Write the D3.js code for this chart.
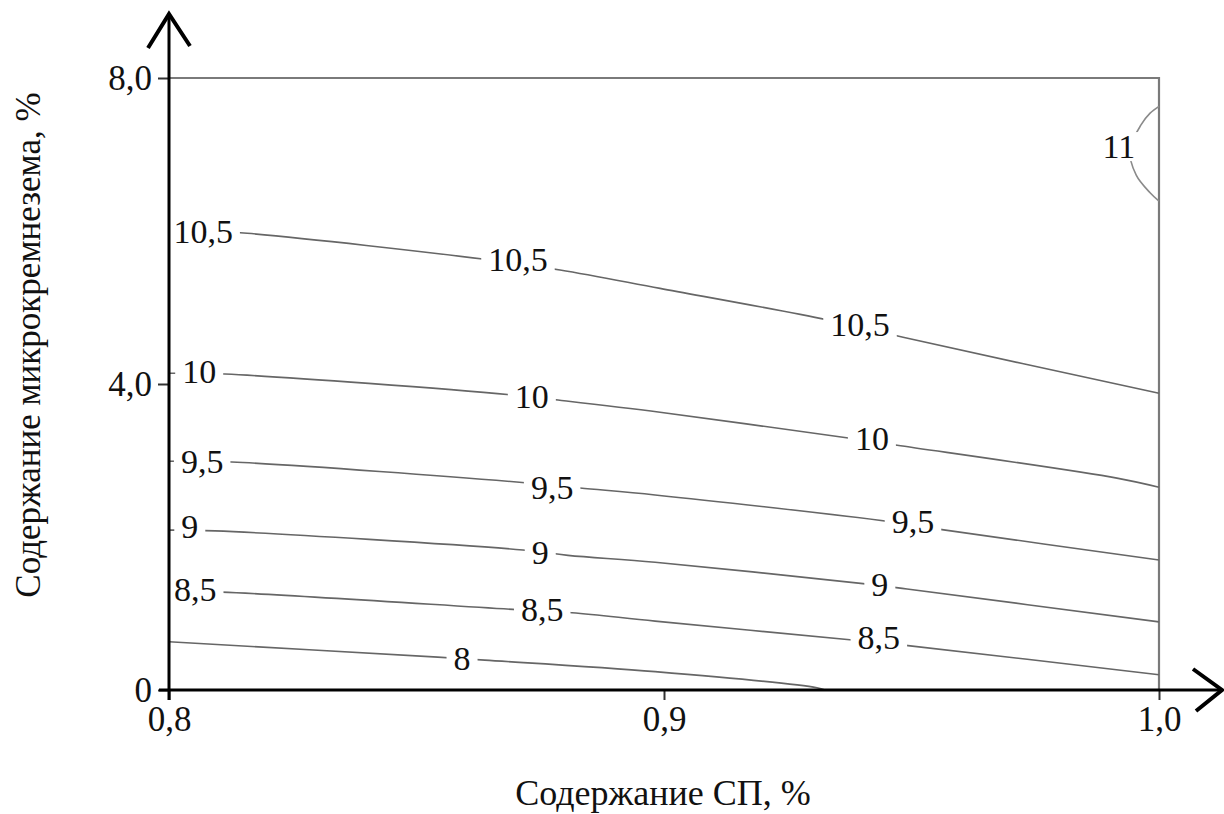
<!DOCTYPE html>
<html>
<head>
<meta charset="utf-8">
<script src="https://cdn.jsdelivr.net/npm/d3@7"></script>
</head>
<body style="margin:0;background:#fff">
<svg id="plot" width="1224" height="814" style="display:block"></svg>
<script>
// Isolines of the response surface: [СП %, микрокремнезем %]
const contour8   = [[0.8, 0.63], [0.8543, 0.43], [0.8638, 0.39], [0.8982, 0.24], [0.9309, 0.03], [0.9325, 0.0]];
const contour8_5 = [[0.8, 1.29], [0.8107, 1.28], [0.8703, 1.05], [0.8814, 1.01], [0.8982, 0.90], [0.9386, 0.65], [0.9493, 0.58], [1.0, 0.20]];
const contour9   = [[0.8, 2.09], [0.8093, 2.08], [0.8715, 1.83], [0.8806, 1.76], [0.8982, 1.67], [0.9402, 1.39], [0.9491, 1.32], [1.0, 0.89]];
const contour9_5 = [[0.8, 2.99], [0.8127, 2.98], [0.8719, 2.71], [0.883, 2.64], [0.8982, 2.55], [0.9457, 2.20], [0.9558, 2.10], [1.0, 1.70]];
const contour10  = [[0.8, 4.14], [0.8113, 4.13], [0.8689, 3.86], [0.8786, 3.79], [0.8992, 3.63], [0.9376, 3.29], [0.9471, 3.20], [0.9915, 2.77], [1.0, 2.65]];
const contour10_5 = [[0.8, 6.03], [0.8158, 5.97], [0.8638, 5.63], [0.879, 5.49], [0.8992, 5.25], [0.9329, 4.84], [0.9483, 4.61], [1.0, 3.88]];
const contour11  = [[1.0, 7.63], [0.9982, 7.54], [0.9964, 7.39], [0.9941, 7.06], [0.9954, 6.73], [0.9982, 6.50], [1.0, 6.39]];

const levels = [8, 8.5, 9, 9.5, 10, 10.5, 11];
const contours = [contour8, contour8_5, contour9, contour9_5, contour10, contour10_5, contour11];

// Inline labels: [level, x, y]
const contourLabels = [
  [10.5, 0.8069, 5.99], [10.5, 0.8705, 5.62], [10.5, 0.9396, 4.77],
  [10, 0.8061, 4.16], [10, 0.8733, 3.83], [10, 0.9420, 3.29],
  [9.5, 0.8067, 2.98], [9.5, 0.8774, 2.64], [9.5, 0.9503, 2.20],
  [9, 0.8042, 2.14], [9, 0.8750, 1.80], [9, 0.9436, 1.37],
  [8.5, 0.8053, 1.31], [8.5, 0.8754, 1.05], [8.5, 0.9434, 0.68],
  [8, 0.8592, 0.41],
  [11, 0.9919, 7.10]
];

const xTicks = [0.8, 0.9, 1.0];
const xTickLabels = ["0,8", "0,9", "1,0"];
const yTicks = [0, 4, 8];
const yTickLabels = ["0", "4,0", "8,0"];

const xTitle = "Содержание СП, %";
const yTitle = "Содержание микрокремнезема, %";

const svg = d3.select("#plot");
const x = d3.scaleLinear().domain([0.8, 1.0]).range([169, 1159]);
const y = d3.scaleLinear().domain([0, 8]).range([690, 78]);

const fmt = v => String(v).replace(".", ",");

// Apply the serif face both as attribute and inline style
function serif(sel, size) {
  return sel.attr("font-family", "Liberation Serif")
    .style("font-family", '"Liberation Serif"')
    .style("font-size", size + "px")
    .attr("fill", "#111");
}

// Frame (top and right)
svg.append("path")
  .attr("d", `M${x(0.8)},${y(8)}H${x(1.0)}V${y(0)}`)
  .attr("fill", "none")
  .attr("stroke", "#7a7a7a")
  .attr("stroke-width", 2.2);

// Isolines
const line = d3.line().x(d => x(d[0])).y(d => y(d[1])).curve(d3.curveCatmullRom.alpha(0.5));
svg.append("g")
  .selectAll("path")
  .data(contours)
  .join("path")
  .attr("d", line)
  .attr("fill", "none")
  .attr("stroke", (d, i) => levels[i] === 11 ? "#8a8a8a" : "#666")
  .attr("stroke-width", 1.6);

// Labels with a white knockout behind them
const lab = svg.append("g");
contourLabels.forEach(([lv, lx, ly]) => {
  const g = lab.append("g").attr("transform", `translate(${x(lx)},${y(ly)})`);
  const rect = g.append("rect").attr("fill", "#fff");
  const t = serif(g.append("text"), 34)
    .attr("text-anchor", "middle")
    .attr("dy", "0.33em")
    .text(fmt(lv));
  const bb = t.node().getBBox();
  const padX = lv === 11 ? 5 : 7;
  rect.attr("x", bb.x - padX).attr("y", bb.y + 4)
      .attr("width", bb.width + 2 * padX).attr("height", bb.height - 8);
});

// Y axis
const yAxis = d3.axisLeft(y).tickValues(yTicks).tickSize(11).tickPadding(6)
  .tickFormat(d => yTickLabels[yTicks.indexOf(d)]);
const gy = svg.append("g").attr("transform", `translate(${x(0.8)},0)`).call(yAxis);
gy.attr("font-family", "Liberation Serif");
gy.select(".domain").remove();
gy.selectAll(".tick line").attr("stroke", "#333").attr("stroke-width", 2);
serif(gy.selectAll(".tick text"), 35);

// X axis
const xAxis = d3.axisBottom(x).tickValues(xTicks).tickSize(10).tickPadding(6)
  .tickFormat(d => xTickLabels[xTicks.indexOf(d)]);
const gx = svg.append("g").attr("transform", `translate(0,${y(0)})`).call(xAxis);
gx.attr("font-family", "Liberation Serif");
gx.select(".domain").remove();
gx.selectAll(".tick line").attr("stroke", "#333").attr("stroke-width", 2);
serif(gx.selectAll(".tick text"), 35);

// Axis lines with arrows
svg.append("path")
  .attr("d", `M${x(0.8)},${y(0) + 10}V14`)
  .attr("stroke", "#000").attr("stroke-width", 3).attr("fill", "none");
svg.append("path")
  .attr("d", `M148,48L${x(0.8)},14L190,46`)
  .attr("stroke", "#000").attr("stroke-width", 4).attr("fill", "none");
svg.append("path")
  .attr("d", `M${x(0.8) - 10},${y(0)}H1222`)
  .attr("stroke", "#000").attr("stroke-width", 3).attr("fill", "none");
svg.append("path")
  .attr("d", `M1193,669L1222,${y(0)}L1196,711`)
  .attr("stroke", "#000").attr("stroke-width", 4).attr("fill", "none");

// Titles
serif(svg.append("text"), 36)
  .attr("x", 663).attr("y", 805)
  .attr("text-anchor", "middle")
  .text(xTitle);
serif(svg.append("text"), 35)
  .attr("transform", "translate(40,345) rotate(-90)")
  .attr("text-anchor", "middle")
  .text(yTitle);
</script>
</body>
</html>
